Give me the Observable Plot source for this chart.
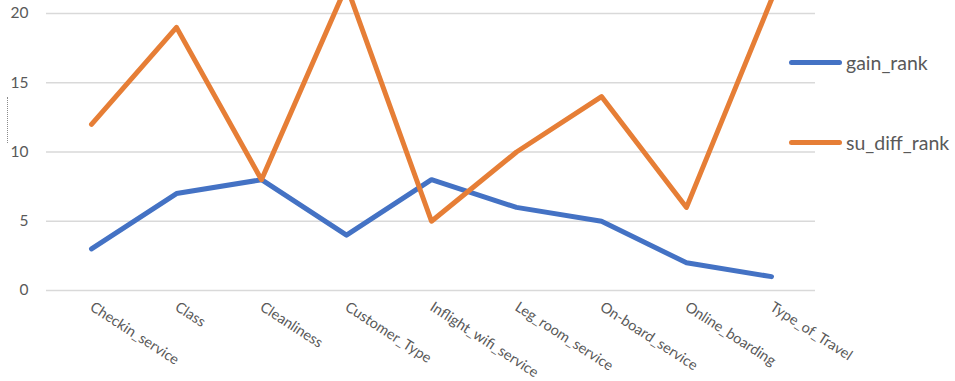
<!DOCTYPE html>
<html>
<head>
<meta charset="utf-8">
<script src="https://cdn.jsdelivr.net/npm/d3@7"></script>
<script src="https://cdn.jsdelivr.net/npm/@observablehq/plot@0.6"></script>
<style>
  html, body { margin: 0; padding: 0; background: #fff; }
  #wrap { position: relative; width: 955px; height: 381px; overflow: hidden; }
  #chart svg { display: block; }
  .legend { position: absolute; left: 789px; top: 0; font-family: Lato, "Open Sans", sans-serif; font-size: 19.5px; color: #595959; }
  .legend .item { position: absolute; left: 0; display: flex; align-items: center; white-space: nowrap; }
  .legend .swatch { width: 53px; height: 5px; border-radius: 3px; margin-right: 4px; }
  .ytitle { position: absolute; left: 7px; top: 97px; height: 46px; border-left: 1px dotted #8a8a8a; }
</style>
</head>
<body>
<div id="wrap">
  <div id="chart"></div>
  <div class="ytitle"></div>
  <div class="legend" id="legend"></div>
</div>
<script>
// Features, in axis order
const categories = [
  "Checkin_service", "Class", "Cleanliness", "Customer_Type",
  "Inflight_wifi_service", "Leg_room_service", "On-board_service",
  "Online_boarding", "Type_of_Travel"
];

// Rank of each feature under the two criteria
const gainRank   = [3, 7, 8, 4, 8, 6, 5, 2, 1];
const suDiffRank = [12, 19, 8, 22, 5, 10, 14, 6, 21];

const seriesNames  = ["gain_rank", "su_diff_rank"];
const seriesColors = ["#4472C4", "#E67E36"];
const yTicks = [0, 5, 10, 15, 20];

const rows = [
  ...categories.map((c, i) => ({feature: c, series: seriesNames[0], value: gainRank[i]})),
  ...categories.map((c, i) => ({feature: c, series: seriesNames[1], value: suDiffRank[i]}))
];

const W = 955, H = 381;
const marginTop = 0, marginBottom = 91;
// the top of the plot area sits a little above the 20 gridline
const yMax = 20 * (H - marginBottom) / (H - marginBottom - 13);

const chart = Plot.plot({
  width: W,
  height: H,
  marginLeft: 46,
  marginRight: 140,
  marginTop,
  marginBottom,
  style: {fontFamily: "Lato, 'Open Sans', sans-serif", color: "#595959", background: "#fff"},
  x: {type: "point", domain: categories, padding: 0.5, label: null},
  y: {domain: [0, yMax], label: null},
  color: {domain: seriesNames, range: seriesColors},
  marks: [
    Plot.ruleY(yTicks, {stroke: "#d9d9d9", strokeWidth: 1.5}),
    Plot.axisY({ticks: yTicks, tickSize: 0, tickPadding: 18, fontSize: 15.5, label: null}),
    Plot.axisX({tickSize: 0, tickRotate: 33, tickPadding: 15, fontSize: 14.5, label: null}),
    Plot.line(rows, {
      x: "feature", y: "value", z: "series", stroke: "series",
      strokeWidth: 5, strokeLinejoin: "round", strokeLinecap: "round", clip: true
    })
  ]
});
document.getElementById("chart").appendChild(chart);

// Legend in the right margin
const legendTops = [62, 142];
const legend = d3.select("#legend");
seriesNames.forEach((name, i) => {
  const item = legend.append("div").attr("class", "item")
    .style("top", (legendTops[i] - 13) + "px").style("height", "26px");
  item.append("div").attr("class", "swatch").style("background", seriesColors[i]);
  item.append("span").text(name);
});
</script>
</body>
</html>
